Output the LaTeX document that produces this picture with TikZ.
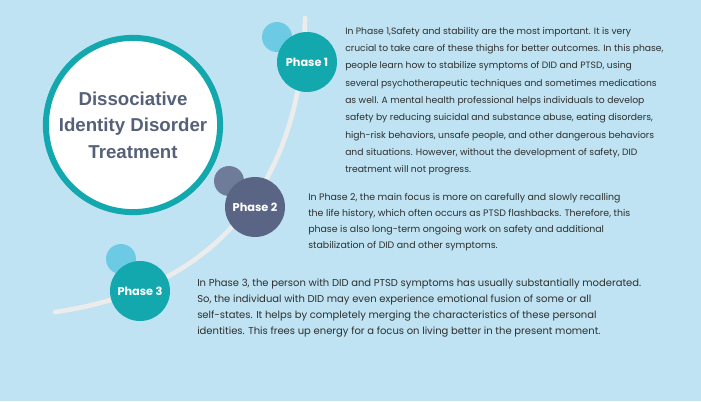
\documentclass[tikz,border=0pt]{standalone}
\usepackage{fontspec}
\setmainfont{Poppins}
\setsansfont{Poppins}
\newfontfamily\titlefont{Liberation Sans}
\definecolor{bgblue}{HTML}{BFE3F2}
\definecolor{teal}{HTML}{12A8AE}
\definecolor{slate}{HTML}{5A6585}
\definecolor{slatelight}{HTML}{6F7C99}
\definecolor{skyblue}{HTML}{6DCAE4}
\definecolor{titlegray}{HTML}{566179}
\definecolor{bodytext}{HTML}{2E2E2E}
\begin{document}
\begin{tikzpicture}[x=0.75pt,y=-0.75pt,
  phase node/.style={circle,minimum size=45pt,inner sep=0pt,text=white,font=\sffamily\bfseries\fontsize{8.5}{10}\selectfont},
  dot node/.style={circle,minimum size=22.5pt,inner sep=0pt},
  body node/.style 2 args={anchor=north west,align=left,inner sep=0pt,text=bodytext,font=\fontsize{#1}{#2}\selectfont}]
  \useasboundingbox (0,0) rectangle (701,401);
  \fill[bgblue] (0,0) rectangle (701,401);
  % the arc
  \draw[line width=3.5pt,color=white!85!gray,line cap=round]
    (305,18) .. controls (302,190) and (210,290) .. (55,312);
  % title circle
  \node[circle,draw=teal,line width=4.5pt,fill=white,minimum size=127pt,text=titlegray,
    align=center,font=\titlefont\bfseries\fontsize{14}{20}\selectfont] (title) at (133,125)
    {Dissociative\\Identity Disorder\\Treatment};
  % phases
  \node[dot node,fill=skyblue] (d1) at (277,37) {};
  \node[phase node,fill=teal] (p1) at (307,62) {Phase 1};
  \node[dot node,fill=slatelight] (d2) at (229,181) {};
  \node[phase node,fill=slate] (p2) at (255,207) {Phase 2};
  \node[dot node,fill=skyblue] (d3) at (121,259) {};
  \node[phase node,fill=teal] (p3) at (140,291) {Phase 3};
  % texts
  \node[body node={6.9}{13}] (t1) at (345,27) {In Phase 1,Safety and stability are the most important. It is very\\
    crucial to take care of these thighs for better outcomes. In this phase,\\
    people learn how to stabilize symptoms of DID and PTSD, using\\
    several psychotherapeutic techniques and sometimes medications\\
    as well. A mental health professional helps individuals to develop\\
    safety by reducing suicidal and substance abuse, eating disorders,\\
    high-risk behaviors, unsafe people, and other dangerous behaviors\\
    and situations. However, without the development of safety, DID\\
    treatment will not progress.};
  \node[body node={7.05}{12}] (t2) at (308,193) {In Phase 2, the main focus is more on carefully and slowly recalling\\
    the life history, which often occurs as PTSD flashbacks. Therefore, this\\
    phase is also long-term ongoing work on safety and additional\\
    stabilization of DID and other symptoms.};
  \node[body node={7.5}{12}] (t3) at (197,279) {In Phase 3, the person with DID and PTSD symptoms has usually substantially moderated.\\
    So, the individual with DID may even experience emotional fusion of some or all\\
    self-states. It helps by completely merging the characteristics of these personal\\
    identities. This frees up energy for a focus on living better in the present moment.};
\end{tikzpicture}
\end{document}
